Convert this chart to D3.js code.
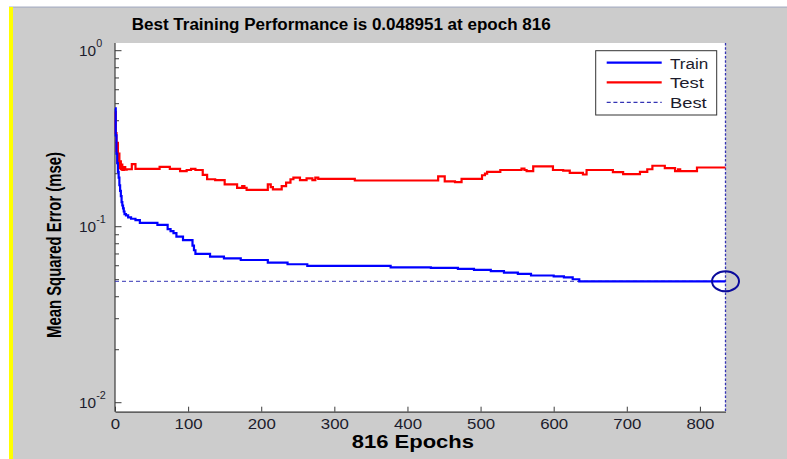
<!DOCTYPE html>
<html><head><meta charset="utf-8">
<script src="https://cdn.jsdelivr.net/npm/d3@7"></script>
<style>
html,body{margin:0;padding:0;background:#fff;}
svg{display:block;}
text{font-family:Arial,"Liberation Sans",Helvetica,sans-serif;}
</style></head>
<body>
<svg id="c" width="787" height="459"></svg>
<script>
// ---------- data ----------
const titleText = "Best Training Performance is 0.048951 at epoch 816";
const xLabelText = "816 Epochs";
const yLabelText = "Mean Squared Error  (mse)";
const seriesNames = ["Train", "Test", "Best"];
const xTicks = [0, 100, 200, 300, 400, 500, 600, 700, 800];
const yMajorTicks = [1, 0.1, 0.01];
const yTickExponents = ["0", "-1", "-2"];
const xMax = 835;                 // right edge of the axes in the picture
const bestValue = 0.048951;
const bestEpochDrawn = 835;       // where the best marker sits in the picture

const trainEpochs = [0,1,2,3,4,5,6,7,8,9,10,11,12,13,15,18,22,28,34,58,72,76,80,84,93,106,108,110,130,149,172,209,236,263,377,432,469,491,514,532,551,569,600,614,626,635,835];
const trainValues = [0.47,0.33,0.26,0.23,0.205,0.19,0.172,0.16,0.149,0.138,0.132,0.127,0.122,0.118,0.116,0.113,0.111,0.109,0.105,0.1025,0.097,0.0945,0.092,0.0878,0.0838,0.078,0.0735,0.0701,0.0676,0.066,0.0647,0.0625,0.0612,0.0599,0.0588,0.0583,0.0576,0.0569,0.0559,0.0548,0.054,0.0528,0.0522,0.0515,0.0503,0.048951,0.048951];

const testEpochs = [0,1,2,3,4,5,6,7,8,9,10,12,14,16,23,28,61,75,89,98,104,110,120,126,137,150,167,174,177,180,209,213,216,228,234,240,244,253,262,270,274,278,328,442,451,465,474,502,506,509,527,556,560,563,572,599,613,622,640,645,681,695,718,728,735,752,766,770,773,796,835];
const testValues = [0.45,0.34,0.27,0.30,0.23,0.26,0.215,0.235,0.212,0.225,0.21,0.218,0.211,0.212,0.227,0.213,0.219,0.213,0.207,0.21,0.213,0.21,0.197,0.186,0.184,0.174,0.166,0.17,0.166,0.162,0.174,0.168,0.163,0.17,0.178,0.186,0.19,0.184,0.188,0.184,0.19,0.187,0.183,0.193,0.181,0.179,0.187,0.196,0.2,0.205,0.21,0.214,0.21,0.207,0.22,0.21,0.208,0.202,0.198,0.21,0.204,0.199,0.205,0.212,0.222,0.215,0.207,0.212,0.207,0.217,0.217];

// ---------- layout ----------
const svg = d3.select("#c");
const L = 115, R = 725.5, T = 43, B = 411.7;
const x = d3.scaleLinear().domain([0, xMax]).range([L, R]);
const y = d3.scaleLog().domain([0.00889, 1.106]).range([B, T]);

// background
svg.append("rect").attr("x",0).attr("y",0).attr("width",787).attr("height",459).attr("fill","#ffffff");
svg.append("rect").attr("x",9).attr("y",7).attr("width",778).attr("height",452).attr("fill","#cccccc");
svg.append("rect").attr("x",9).attr("y",6.5).attr("width",778).attr("height",1.2).attr("fill","#a9afc4");
svg.append("rect").attr("x",9).attr("y",7).attr("width",4).attr("height",452).attr("fill","#ffff00");
svg.append("rect").attr("x",L).attr("y",T).attr("width",R-L).attr("height",B-T).attr("fill","#ffffff");

const axisColor = "#3c3c3c";
// x axis (ticks inward)
const gx = svg.append("g").attr("transform",`translate(0,${B})`)
  .call(d3.axisBottom(x).tickValues(xTicks).tickSizeInner(-5).tickSizeOuter(0).tickPadding(0));
gx.select(".domain").attr("stroke",axisColor).attr("stroke-width",1.2);
gx.selectAll(".tick line").attr("stroke",axisColor);
gx.selectAll(".tick text").attr("y",17.5).attr("dy",null)
  .attr("font-size",15.4).attr("fill","#1c1c2c")
  .attr("textLength",d=>String(d).length*9.35).attr("lengthAdjust","spacingAndGlyphs");

// y axis
const minorTicks = [];
[0.01,0.1].forEach(base=>{for(let k=2;k<=9;k++) minorTicks.push(base*k);});
const gy = svg.append("g").attr("transform",`translate(${L},0)`);
gy.append("line").attr("x1",0).attr("x2",0).attr("y1",T).attr("y2",B).attr("stroke",axisColor).attr("stroke-width",1.2);
gy.selectAll("line.minor").data(minorTicks).join("line").attr("class","minor")
  .attr("x1",0).attr("x2",4).attr("y1",d=>y(d)).attr("y2",d=>y(d)).attr("stroke",axisColor);
gy.selectAll("line.major").data(yMajorTicks).join("line").attr("class","major")
  .attr("x1",0).attr("x2",6.5).attr("y1",d=>y(d)).attr("y2",d=>y(d)).attr("stroke",axisColor);
const yl = svg.selectAll("text.ylab").data(yMajorTicks).join("text").attr("class","ylab")
  .attr("x",79).attr("y",d=>y(d)+5.3).attr("fill","#1c1c2c").attr("font-size",15.4);
yl.append("tspan").text("10");
yl.append("tspan").attr("dy",-9).attr("font-size",10.8).text((d,i)=>yTickExponents[i]);

// best lines
const bestColor = "#3434b4";
svg.append("line").attr("x1",x(0)).attr("x2",x(bestEpochDrawn)).attr("y1",y(bestValue)).attr("y2",y(bestValue))
  .attr("stroke",bestColor).attr("stroke-width",1).attr("stroke-dasharray","4,3");
svg.append("line").attr("x1",x(bestEpochDrawn)).attr("x2",x(bestEpochDrawn)).attr("y1",T).attr("y2",B)
  .attr("stroke",bestColor).attr("stroke-width",1.3).attr("stroke-dasharray","2.5,1.8");

// series
const line = d3.line().x(d=>x(d[0])).y(d=>y(d[1])).curve(d3.curveStepAfter);
const testData = testEpochs.map((e,i)=>[e,testValues[i]]);
const trainData = trainEpochs.map((e,i)=>[e,trainValues[i]]);
svg.append("path").datum(testData).attr("d",line).attr("fill","none").attr("stroke","#ff0000").attr("stroke-width",2.2);
svg.append("path").datum(trainData).attr("d",line).attr("fill","none").attr("stroke","#0000ff").attr("stroke-width",2.2);

// best circle
svg.append("ellipse").attr("cx",x(bestEpochDrawn)).attr("cy",y(bestValue)).attr("rx",13.5).attr("ry",10)
  .attr("fill","none").attr("stroke","#0b0b9c").attr("stroke-width",2);

// legend
const lg = svg.append("g");
lg.append("rect").attr("x",595.7).attr("y",50.7).attr("width",121).attr("height",64.3)
  .attr("fill","#ffffff").attr("stroke","#333333").attr("stroke-width",1);
const legColors = ["#0000ff","#ff0000",bestColor];
const legY = [62.7, 82.3, 102.3];
const legLen = [38.3, 34, 36.7];
seriesNames.forEach((n,i)=>{
  const l = lg.append("line").attr("x1",606.7).attr("x2",661.7).attr("y1",legY[i]).attr("y2",legY[i])
    .attr("stroke",legColors[i]).attr("stroke-width",i<2?2.2:1.2);
  if(i===2) l.attr("stroke-dasharray","4,2.7");
  lg.append("text").attr("x",670).attr("y",legY[i]+6).attr("font-size",15.4).attr("fill","#1c1c2c")
    .attr("textLength",legLen[i]).attr("lengthAdjust","spacingAndGlyphs").text(n);
});

// titles
svg.append("text").attr("x",131.7).attr("y",29.5).attr("font-size",16).attr("font-weight","bold")
  .attr("fill","#000").attr("textLength",419).attr("lengthAdjust","spacingAndGlyphs").text(titleText);
svg.append("text").attr("x",351.7).attr("y",448.3).attr("font-size",17.7).attr("font-weight","bold")
  .attr("fill","#000").attr("textLength",122.3).attr("lengthAdjust","spacingAndGlyphs").text(xLabelText);
svg.append("text").attr("transform","translate(61,245) rotate(-90)").attr("text-anchor","middle")
  .attr("font-size",21).attr("font-weight","bold").attr("fill","#000")
  .attr("textLength",186).attr("lengthAdjust","spacingAndGlyphs").text(yLabelText);
</script>
</body></html>
